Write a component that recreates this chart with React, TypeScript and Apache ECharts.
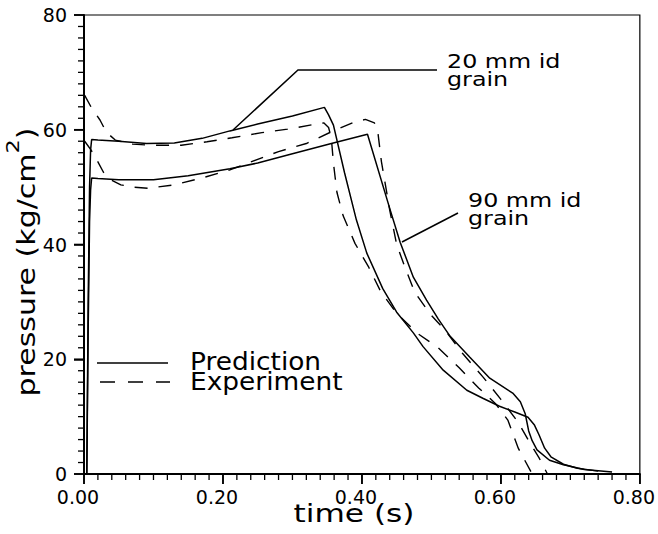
import React, { useEffect, useRef } from 'react';
import * as echarts from 'echarts';

const FONT = '"DejaVu Sans", "Liberation Sans", sans-serif';

// time (s), pressure (kg/cm^2)
const pred20: [number, number][] = [
  [0.004, 0], [0.006, 30], [0.008, 50], [0.0095, 56.5], [0.011, 58.3], [0.02, 58.2], [0.05, 58.0],
  [0.09, 57.6], [0.13, 57.7], [0.17, 58.5], [0.21, 59.8], [0.25, 61.0], [0.30, 62.4], [0.346, 63.9],
  [0.352, 62.6], [0.359, 60.8], [0.375, 52.5], [0.392, 44.3], [0.407, 38.5], [0.43, 32.3], [0.45, 28.2],
  [0.474, 24.6], [0.488, 22.2], [0.517, 18.1], [0.551, 14.6], [0.574, 13.2], [0.598, 11.8], [0.62, 10.8],
  [0.639, 9.9], [0.648, 8.6], [0.655, 6.8], [0.663, 4.5], [0.672, 3.0], [0.69, 1.7], [0.71, 1.0], [0.74, 0.5],
];

const pred90: [number, number][] = [
  [0.004, 0], [0.006, 25], [0.008, 44], [0.0095, 49.5], [0.011, 51.6], [0.02, 51.5], [0.05, 51.3],
  [0.10, 51.3], [0.15, 52.0], [0.21, 53.2], [0.25, 54.2], [0.30, 55.8], [0.356, 57.6], [0.408, 59.2],
  [0.44, 46.3], [0.455, 40.4], [0.474, 34.3], [0.493, 30.3], [0.51, 27.0], [0.527, 24.0], [0.555, 20.4],
  [0.584, 16.7], [0.617, 14.1], [0.628, 12.6], [0.635, 10.5], [0.64, 7.5], [0.645, 5.8], [0.652, 4.2],
  [0.67, 2.4], [0.69, 1.6], [0.72, 0.8], [0.76, 0.35],
];

const exp20: [number, number][] = [
  [0.001, 66], [0.01, 64], [0.023, 61.7], [0.032, 59.6], [0.045, 58.2], [0.07, 57.5], [0.096, 57.3],
  [0.14, 57.3], [0.177, 57.9], [0.213, 58.6], [0.256, 59.5], [0.293, 60.1], [0.33, 60.9], [0.345, 61.2],
  [0.352, 60.4], [0.356, 58.5], [0.359, 54.2], [0.364, 49.1], [0.373, 45], [0.39, 40.2], [0.41, 36],
  [0.427, 31.8], [0.45, 28], [0.48, 24.5], [0.51, 22], [0.54, 18.5], [0.568, 15], [0.592, 12.3],
  [0.61, 9.4], [0.625, 4.5], [0.645, 0],
];

const exp90: [number, number][] = [
  [0.001, 58], [0.01, 56.5], [0.02, 54.4], [0.028, 52.6], [0.04, 51.2], [0.053, 50.4], [0.07, 50.0],
  [0.092, 49.8], [0.13, 50.4], [0.17, 51.6], [0.21, 53.0], [0.24, 54.4], [0.28, 56.2], [0.32, 57.6],
  [0.357, 59.7], [0.39, 61.4], [0.405, 61.8], [0.418, 61.2], [0.423, 59.5], [0.428, 54.5], [0.44, 46],
  [0.45, 40], [0.462, 36], [0.476, 31.7], [0.498, 27.9], [0.52, 25], [0.545, 21], [0.575, 16.8],
  [0.60, 13], [0.625, 9], [0.64, 5.8], [0.655, 2.8], [0.667, 0],
];

const xRange = { min: 0, max: 0.8, interval: 0.2 };
const yRange = { min: 0, max: 80, interval: 20 };
const xMinorStep = 0.02;
const yMinorStep = 2;
const legendLabels = ['Prediction', 'Experiment'];
const annotation20 = ['20 mm id', 'grain'];
const annotation90 = ['90 mm id', 'grain'];

function txt(text: string, x: number, y: number, size: number, scaleX: number, align = 'left') {
  return {
    type: 'text',
    x,
    y,
    scaleX,
    silent: true,
    style: {
      text,
      fontSize: size,
      fontFamily: FONT,
      fill: '#000',
      textAlign: align,
      textVerticalAlign: 'middle',
    },
  };
}

function seg(x1: number, y1: number, x2: number, y2: number, w: number) {
  return { type: 'line', silent: true, shape: { x1, y1, x2, y2 }, style: { stroke: '#000', lineWidth: w } };
}

export default function App() {
  const ref = useRef<HTMLDivElement>(null);
  useEffect(() => {
    const chart = echarts.init(ref.current!, null, { renderer: 'svg' });
    const lineBase = { type: 'line', showSymbol: false, symbol: 'none', silent: true };
    chart.setOption({
      animation: false,
      backgroundColor: '#fff',
      grid: { left: 84, right: 18, top: 15, bottom: 60 },
      xAxis: {
        type: 'value',
        ...xRange,
        axisLine: { show: true, onZero: false, lineStyle: { color: '#000', width: 2 } },
        axisTick: { show: true, length: 10, lineStyle: { color: '#000', width: 1.5 } },
        splitLine: { show: false },
        axisLabel: {
          fontFamily: FONT, fontSize: 19, color: '#000', margin: 13, padding: [0, 12, 0, 0],
          formatter: (v: number) => v.toFixed(2),
        },
      },
      yAxis: {
        type: 'value',
        ...yRange,
        axisLine: { show: true, onZero: false, lineStyle: { color: '#000', width: 2 } },
        axisTick: { show: true, length: 10, lineStyle: { color: '#000', width: 1.5 } },
        splitLine: { show: false },
        axisLabel: { fontFamily: FONT, fontSize: 19, color: '#000', margin: 17 },
      },
      series: [
        { ...lineBase, name: '20 mm id grain – Prediction', data: pred20, lineStyle: { color: '#000', width: 1.5 } },
        { ...lineBase, name: '90 mm id grain – Prediction', data: pred90, lineStyle: { color: '#000', width: 1.5 } },
        { ...lineBase, name: '20 mm id grain – Experiment', data: exp20, lineStyle: { color: '#000', width: 1.4, type: [13, 11] } },
        { ...lineBase, name: '90 mm id grain – Experiment', data: exp90, lineStyle: { color: '#000', width: 1.4, type: [13, 11] } },
      ],
    });

    // Axis frame and ticks, positioned through the chart's own scales
    const toPx = (x: number, y: number) => chart.convertToPixel({ gridIndex: 0 }, [x, y]) as number[];
    const [x0, y0] = toPx(xRange.min, yRange.min);
    const [x1, y1] = toPx(xRange.max, yRange.max);
    const frame: any[] = [
      { type: 'polyline', silent: true, shape: { points: [[x0, y1], [x1, y1], [x1, y0]] }, style: { stroke: '#000', lineWidth: 1.2, fill: 'none' } },
      seg(x0, y1, x0, y0, 2),
      seg(x0, y0, x1, y0, 2),
    ];
    const nx = Math.round((xRange.max - xRange.min) / xMinorStep);
    for (let i = 0; i <= nx; i++) {
      const v = xRange.min + i * xMinorStep;
      const major = i % 10 === 0;
      const [px] = toPx(v, yRange.min);
      frame.push(seg(px, y0, px, y0 + (major ? 10 : 6), major ? 1.6 : 1.3));
    }
    const ny = Math.round((yRange.max - yRange.min) / yMinorStep);
    for (let i = 0; i <= ny; i++) {
      const v = yRange.min + i * yMinorStep;
      const major = i % 10 === 0;
      const [, py] = toPx(xRange.min, v);
      frame.push(seg(x0 - (major ? 10 : 6), py, x0, py, major ? 1.6 : 1.3));
    }

    chart.setOption({
      graphic: [
        ...frame,
        { type: 'line', silent: true, shape: { x1: 97, y1: 363, x2: 168, y2: 363 }, style: { stroke: '#000', lineWidth: 1.5 } },
        { type: 'line', silent: true, shape: { x1: 100, y1: 382, x2: 170, y2: 382 }, style: { stroke: '#000', lineWidth: 1.5, lineDash: [15, 13] } },
        txt(legendLabels[0], 190, 362, 24, 1.1),
        txt(legendLabels[1], 190, 382, 24, 1.1),
        { type: 'polyline', silent: true, shape: { points: [[233, 130], [298, 70], [437, 70]] }, style: { stroke: '#000', lineWidth: 1.5, fill: 'none' } },
        { type: 'line', silent: true, shape: { x1: 402, y1: 242, x2: 458, y2: 213 }, style: { stroke: '#000', lineWidth: 1.5 } },
        txt(annotation20[0], 447, 61, 20, 1.19),
        txt(annotation20[1], 447, 79, 20, 1.19),
        txt(annotation90[0], 468, 200, 20, 1.19),
        txt(annotation90[1], 468, 218, 20, 1.19),
        txt('time (s)', 354, 514, 24, 1.3, 'center'),
        {
          type: 'text',
          x: 27,
          y: 262,
          rotation: Math.PI / 2,
          scaleX: 1.25,
          silent: true,
          style: {
            text: 'pressure (kg/cm{sup|2})',
            fontSize: 24,
            fontFamily: FONT,
            fill: '#000',
            textAlign: 'center',
            textVerticalAlign: 'middle',
            rich: {
              sup: { fontSize: 18, fontFamily: FONT, fill: '#000', verticalAlign: 'top', padding: [0, 0, 28, 0] },
            },
          },
        },
      ],
    });
    return () => chart.dispose();
  }, []);
  return <div ref={ref} style={{ position: 'fixed', left: 0, top: 0, width: 658, height: 534, background: '#fff' }} />;
}
